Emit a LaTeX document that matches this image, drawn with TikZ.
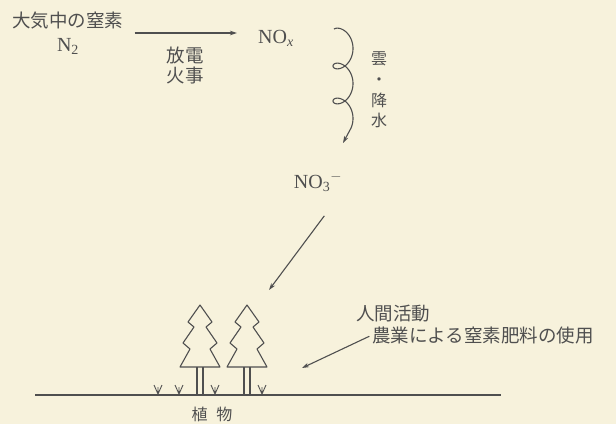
\documentclass[tikz,border=0pt]{standalone}
\usepackage{fontspec}
\setmainfont{Liberation Serif}
\newfontfamily\jpfont{Noto Sans CJK JP}
\usetikzlibrary{arrows.meta,positioning,calc}
\definecolor{paper}{HTML}{F7F2DC}
\definecolor{ink}{HTML}{4F4F4F}

\begin{document}
\begin{tikzpicture}[x=1pt,y=-1pt,
  jp/.style={font=\jpfont\fontsize{18.5}{24}\selectfont,text=ink,inner sep=0pt},
  chem/.style={font=\fontsize{20}{22}\selectfont,text=ink,inner sep=0pt},
  flow/.style={-{Stealth[length=7pt,width=4.5pt]},ink,line width=1.1pt},
  plant/.style={ink,line width=1.1pt,line join=round},
]
  \fill[paper] (0,0) rectangle (616,424);
  \useasboundingbox (0,0) rectangle (616,424);

  % fixation in the air
  \node[jp,align=center] (air) at (68,33) {大気中の窒素\\{\rmfamily\fontsize{20}{24}\selectfont N\textsubscript{2}}};
  \node[chem,anchor=west] (nox) at (258,38) {NO\textsubscript{\textit{x}}};
  \node[jp,align=center,font=\jpfont\fontsize{18.5}{20}\selectfont] (cause) at (185,65) {放電\\火事};
  \draw[flow,shorten <=11pt,shorten >=21pt] (air.east) -- (air.east -| nox.west);

  % washed out by rain
  \coordinate (rainend) at (343,143);
  \draw[flow] plot[domain=3.6:19.5,samples=160,variable=\t]
    ({343+10*cos(\t r)},{13.5+5.57*\t+10*sin(\t r)}) -- (rainend);
  \node[jp,align=center,font=\jpfont\fontsize{16}{20.7}\selectfont] (rain) at (379,90) {雲\\・\\降\\水};
  \node[chem] (nothree) at (318,182) {NO\textsubscript{3}\textsuperscript{$-$}};

  % uptake by the plants
  \coordinate (uptake) at (269,290);
  \draw[flow,shorten <=30pt] (nothree.south east) -- (uptake);

  % fertiliser
  \node[jp,anchor=west] (human) at (356,314) {人間活動};
  \node[jp,anchor=west] (farm) at (372,335) {農業による窒素肥料の使用};
  \coordinate (fertil) at (302,368);
  \draw[flow,shorten <=3pt] (farm.west) -- (fertil);

  % ground, trees and grass
  \draw[plant] (35,395) -- (501,395);
  \foreach \tx in {200,247}{
    \draw[plant] (\tx,305) -- ++(12,17) -- ++(-6,5) -- ++(11,16) -- ++(-7,6) -- ++(10,18)
      -- ++(-40,0) -- ++(10,-18) -- ++(-7,-6) -- ++(11,-16) -- ++(-6,-5) -- cycle;
    \draw[plant] ({\tx-3},367) -- ({\tx-3},395) ({\tx+3},367) -- ({\tx+3},395);
  }
  \foreach \gx in {158,179,215,262}
    \draw[plant,line width=0.9pt] ({\gx-4},385) -- (\gx,394) -- ({\gx+4},385) (\gx,387) -- (\gx,394);
  \node[jp,font=\jpfont\fontsize{16}{18}\selectfont] (plants) at (212,414) {植\hspace{9pt}物};
\end{tikzpicture}
\end{document}
